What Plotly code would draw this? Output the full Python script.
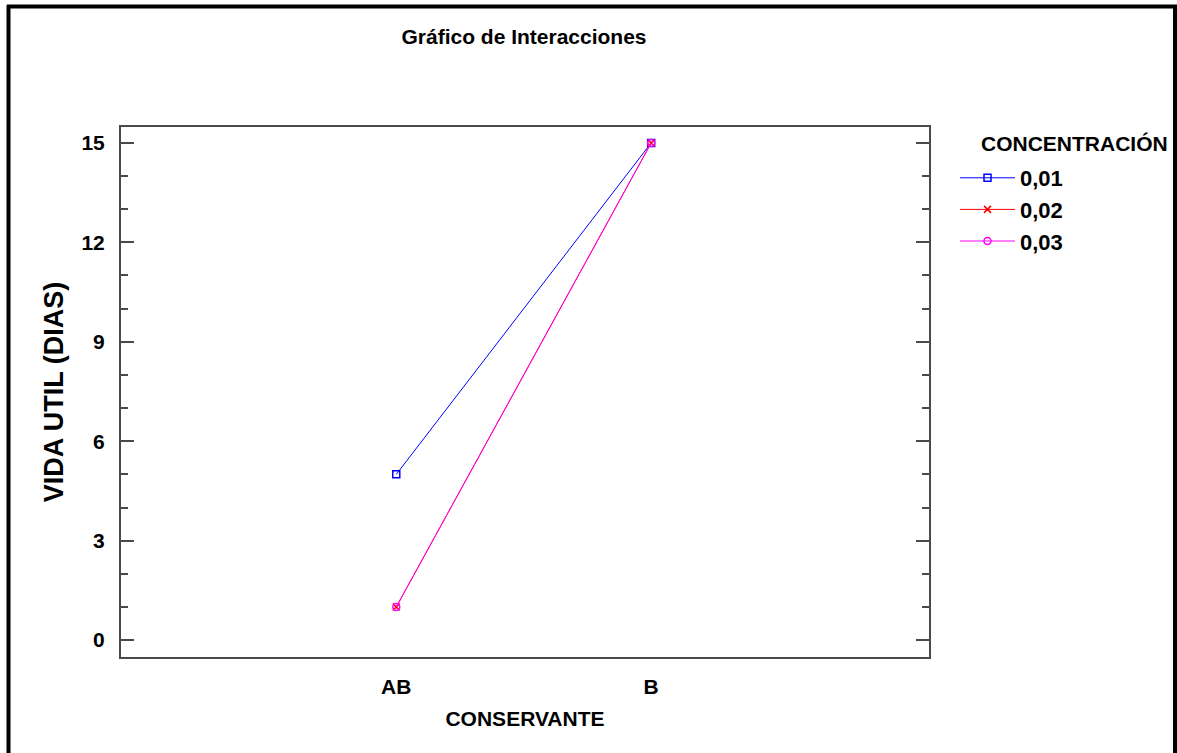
import plotly.graph_objects as go

categories = ["AB", "B"]
cat_pos = [0, 1]
series_names = ["0,01", "0,02", "0,03"]
values_001 = [5, 15]
values_002 = [1, 15]
values_003 = [1, 15]
colors = ["#0000FF", "#FF0000", "#FF00FF"]
symbols = ["square-open", "x-thin-open", "circle-open"]

W, H = 1177, 753
L, R, T, B = 121, 929, 127, 657

fig = go.Figure()
for name, vals, col, sym in zip(series_names, [values_001, values_002, values_003], colors, symbols):
    fig.add_trace(go.Scatter(
        x=cat_pos, y=vals, mode="lines+markers", name="<b>%s</b>" % name,
        line=dict(color=col, width=1),
        marker=dict(symbol=sym, size=7, color=col, line=dict(color=col, width=1.5)),
    ))

fam = "Liberation Sans, Arial, sans-serif"
axis_col = "#4a4a4a"

def px_x(p):
    return (p - L) / (R - L)

def px_y(p):
    return (B - p) / (B - T)

fig.update_layout(
    width=W, height=H,
    margin=dict(l=L, r=W - R, t=T, b=H - B, autoexpand=False),
    paper_bgcolor="white", plot_bgcolor="white",
    font=dict(family=fam, color="black"),
    title=dict(text="<b>Gráfico de Interacciones</b>", x=524 / W, xanchor="center",
               y=1 - 37 / H, yanchor="middle", font=dict(size=21, color="black", family=fam)),
    showlegend=True,
    legend=dict(
        font=dict(size=22, family=fam),
        x=px_x(955), xanchor="left",
        y=px_y(157), yanchor="top",
        bgcolor="rgba(0,0,0,0)", tracegroupgap=0, itemwidth=55,
    ),
    xaxis=dict(
        range=[-1.08, 2.09], tickmode="array", tickvals=cat_pos,
        ticktext=["<b>%s</b>" % c for c in categories],
        tickfont=dict(size=21, family=fam), ticks="", showgrid=False, zeroline=False,
        showline=True, linecolor=axis_col, linewidth=2, mirror=True,
        ticklabelstandoff=10,
        title=dict(text="<b>CONSERVANTE</b>", font=dict(size=21, family=fam), standoff=14),
    ),
    yaxis=dict(
        range=[-0.51, 15.48], tickmode="array", tickvals=[0, 3, 6, 9, 12, 15],
        ticktext=["<b>%d</b>" % v for v in [0, 3, 6, 9, 12, 15]],
        tickfont=dict(size=21, family=fam), ticks="inside", ticklen=13, tickwidth=2, tickcolor=axis_col,
        minor=dict(ticks="inside", ticklen=7, tickwidth=2, tickcolor=axis_col, dtick=1, tick0=0, showgrid=False),
        showgrid=False, zeroline=False,
        showline=True, linecolor=axis_col, linewidth=2, mirror="allticks",
        ticklabelstandoff=10,
        title=dict(text="<b>VIDA UTIL (DIAS)</b>", font=dict(size=27, family=fam), standoff=10),
    ),
)

fig.add_annotation(text="<b>CONCENTRACIÓN</b>", xref="paper", yref="paper",
                   x=px_x(979), y=px_y(143), xanchor="left", yanchor="middle",
                   showarrow=False, font=dict(size=21, family=fam, color="black"))

# outer black frame (top, left, right)
for x0, y0, x1, y1 in [(7, 6.5, 1177, 6.5), (8.5, 5, 8.5, 760), (1175, 5, 1175, 760)]:
    fig.add_shape(type="line", xref="paper", yref="paper",
                  x0=px_x(x0), y0=px_y(y0), x1=px_x(x1), y1=px_y(y1),
                  line=dict(color="black", width=4))

fig.write_html("out.html", config={"displayModeBar": False},
               post_script="document.body.style.margin='0';document.body.style.overflow='hidden';")
